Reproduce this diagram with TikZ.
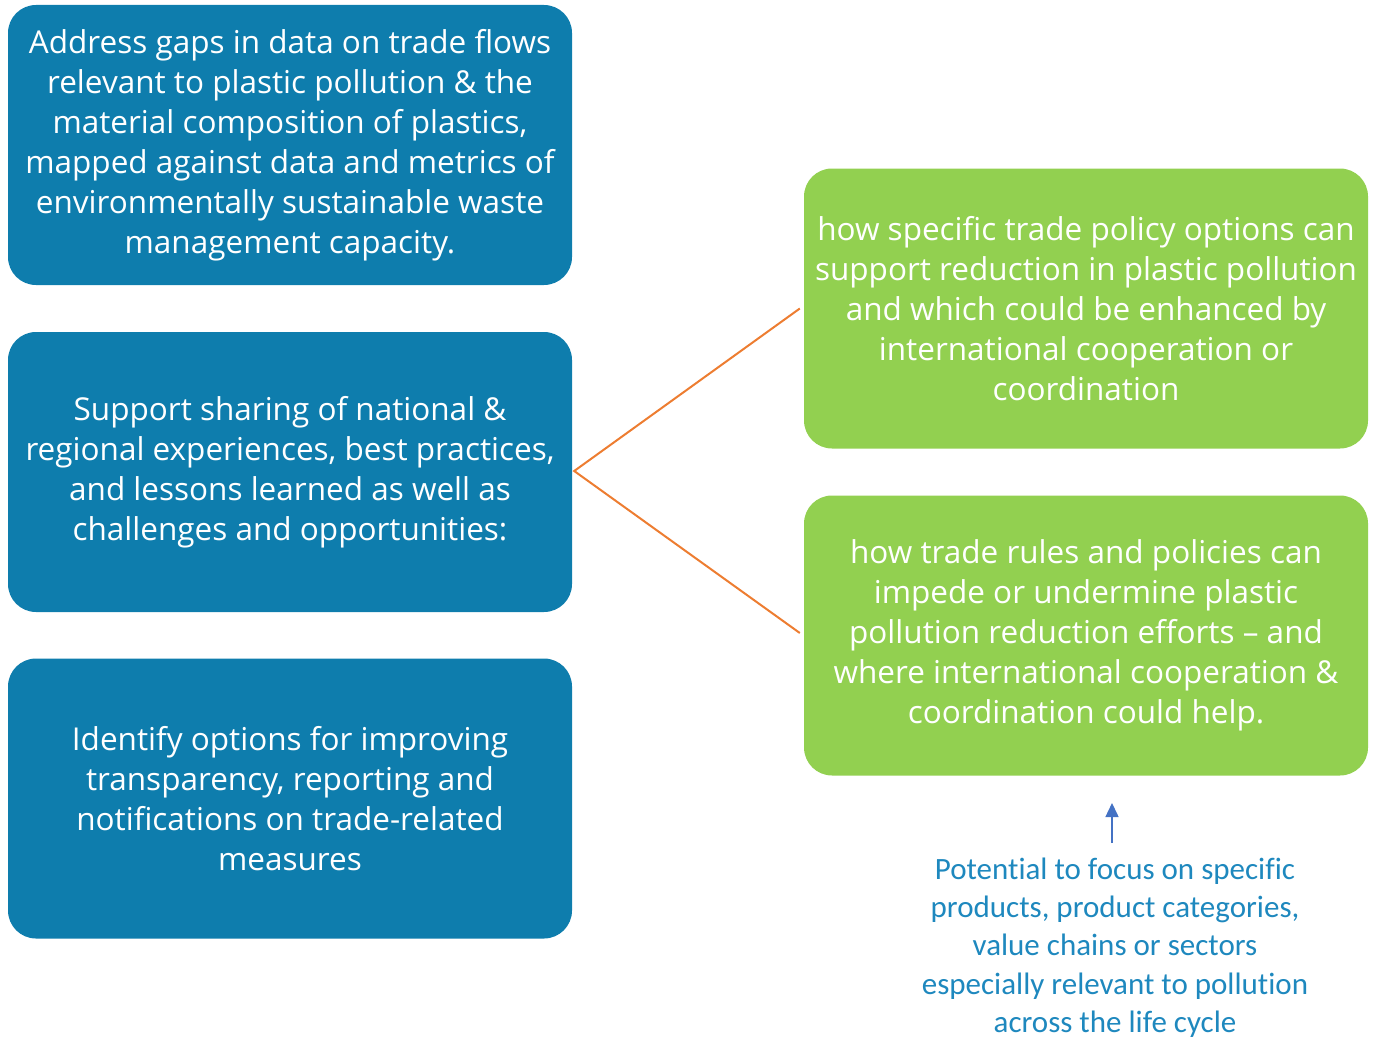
\documentclass[tikz,border=0pt]{standalone}
\usepackage{fontspec}
\setmainfont{Open Sans}
\newfontfamily\notefont[Ligatures=NoCommon]{Carlito}
\usetikzlibrary{arrows.meta}
\definecolor{boxblue}{HTML}{0E7DAD}
\definecolor{boxgreen}{HTML}{92D050}
\definecolor{lineorange}{HTML}{ED7D31}
\definecolor{arrowblue}{HTML}{4472C4}
\definecolor{noteblue}{HTML}{1E88BE}
\begin{document}
\begin{tikzpicture}[x=1pt,y=-1pt,
  card/.style={rounded corners=28pt, minimum width=564pt, minimum height=280pt,
    inner sep=0pt, align=center, text=white,
    font=\fontsize{31.5}{40}\selectfont},
  bluecard/.style={card, fill=boxblue},
  greencard/.style={card, fill=boxgreen},
  link/.style={draw=lineorange, line width=2pt},
  pointer/.style={draw=arrowblue, line width=1.5pt, -{Triangle[width=13pt,length=14pt]}},
  note/.style={align=center, text=noteblue, font=\notefont\fontsize{31}{38.3}\selectfont}
]
\useasboundingbox (0,0) rectangle (1380,1038);
\node[bluecard] (b1) at (290,145) {Address gaps in data on trade flows\\relevant to plastic pollution \& the\\material composition of plastics,\\mapped against data and metrics of\\environmentally sustainable waste\\management capacity.};
\node[bluecard] (b2) at (290,472) {Support sharing of national \&\\regional experiences, best practices,\\and lessons learned as well as\\challenges and opportunities:};
\node[bluecard] (b3) at (290,798.5) {Identify options for improving\\transparency, reporting and\\notifications on trade-related\\measures};
\node[greencard] (g1) at (1086,308.5) {how specific trade policy options can\\support reduction in plastic pollution\\and which could be enhanced by\\international cooperation or\\coordination};
\node[greencard] (g2) at (1086,635.5) {how trade rules and policies can\\impede or undermine plastic\\pollution reduction efforts -- and\\where international cooperation \&\\coordination could help.};
\draw[link] ([xshift=-4pt]g1.west) -- ([xshift=2pt,yshift=1pt]b2.east) -- ([xshift=-4pt,yshift=2.5pt]g2.west);
\node[note] (n) at (1115,947.5) {Potential to focus on specific\\products, product categories,\\value chains or sectors\\especially relevant to pollution\\across the life cycle};
\coordinate (ab) at (1112,843);
\coordinate (at) at (1112,803);
\draw[pointer] (ab) -- (at);
\end{tikzpicture}
\end{document}
